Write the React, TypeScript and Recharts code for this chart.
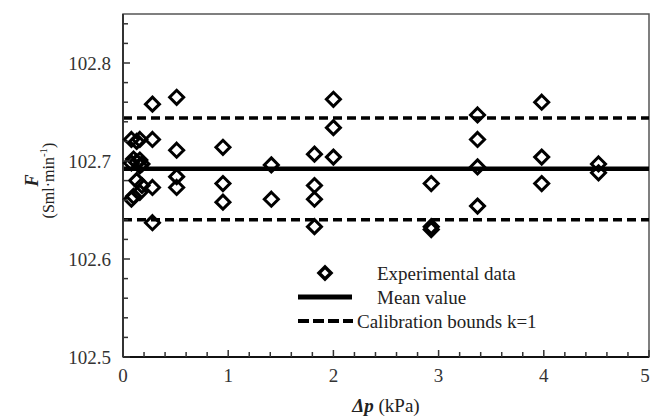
import React from 'react';
import { ScatterChart, Scatter, XAxis, YAxis, ReferenceLine, ReferenceArea, Legend } from 'recharts';

const FONT = 'Liberation Serif';

// pressure drop (kPa) of each measuring group
const pressureDrops = [0.08, 0.1, 0.13, 0.16, 0.18, 0.28, 0.51, 0.95, 1.41, 1.82, 2.0, 2.93, 3.37, 3.98, 4.52];
// flow readings (Sml/min) for each group above
const flowReadings = [
    [102.722, 102.698, 102.661],
    [102.702, 102.664],
    [102.72, 102.699, 102.68],
    [102.722, 102.701, 102.695, 102.668],
    [102.697, 102.675],
    [102.758, 102.722, 102.673, 102.637],
    [102.765, 102.711, 102.684, 102.673],
    [102.714, 102.677, 102.658],
    [102.696, 102.661],
    [102.707, 102.675, 102.661, 102.633],
    [102.763, 102.734, 102.704],
    [102.677, 102.633, 102.63],
    [102.747, 102.722, 102.694, 102.654],
    [102.76, 102.704, 102.677],
    [102.697, 102.688],
];

const meanValue = 102.692;
const upperBound = 102.744;
const lowerBound = 102.64;

const xMajorTicks = [0, 1, 2, 3, 4, 5];
const yMajorTicks = [102.5, 102.6, 102.7, 102.8];
const xTicks = Array.from({ length: 26 }, (_, i) => i * 0.2);
const yTicks = Array.from({ length: 18 }, (_, i) => 102.5 + i * 0.02);

const points = pressureDrops.flatMap((dp, i) => flowReadings[i].map((f) => ({ x: dp, y: f })));

const isMajor = (v: number, list: number[]) => list.some((m) => Math.abs(m - v) < 1e-6);

const Diamond = (props: any) => {
    const { cx, cy } = props;
    const r = 7;
    return (
        <path
            d={`M${cx},${cy - r}L${cx + r},${cy}L${cx},${cy + r}L${cx - r},${cy}Z`}
            fill="none"
            stroke="#000"
            strokeWidth={3}
        />
    );
};

const YTick = (props: any) => {
    const { x, y, payload } = props;
    const major = isMajor(payload.value, yMajorTicks);
    return (
        <g>
            <line x1={x} x2={x + (major ? 7 : 5)} y1={y} y2={y} stroke="#333" strokeWidth={1.5} />
            {major && (
                <text x={x - 12} y={y} dy="0.35em" textAnchor="end" fontSize={19} fontFamily={FONT} fill="#333">
                    {payload.value.toFixed(1)}
                </text>
            )}
        </g>
    );
};

const XTick = (props: any) => {
    const { x, y, payload } = props;
    const major = isMajor(payload.value, xMajorTicks);
    return (
        <g>
            <line x1={x} x2={x} y1={y} y2={y - (major ? 7 : 5)} stroke="#333" strokeWidth={1.5} />
            {major && (
                <text x={Math.min(x, 645)} y={y + 25} textAnchor="middle" fontSize={19} fontFamily={FONT} fill="#333">
                    {Math.round(payload.value)}
                </text>
            )}
        </g>
    );
};

const XLabel = (props: any) => {
    const { viewBox } = props;
    const cx = viewBox.x + viewBox.width / 2;
    return (
        <text x={cx} y={viewBox.y + 55} textAnchor="middle" fontSize={19} fontFamily={FONT} fill="#222">
            <tspan fontWeight="bold" fontStyle="italic">Δp</tspan>
            <tspan> (kPa)</tspan>
        </text>
    );
};

const YLabel = (props: any) => {
    const { viewBox } = props;
    const cy = viewBox.y + viewBox.height / 2 - 5;
    return (
        <g fontFamily={FONT} fill="#222">
            <text x={32} y={cy} transform={`rotate(-90 32 ${cy})`} textAnchor="middle" dominantBaseline="central" fontSize={18} fontWeight="bold" fontStyle="italic">
                F
            </text>
            <text x={48} y={cy} transform={`rotate(-90 48 ${cy})`} textAnchor="middle" dominantBaseline="central" fontSize={16}>
                (Sml·min
                <tspan dy={-5} fontSize={11}>-1</tspan>
                <tspan dy={5}>)</tspan>
            </text>
        </g>
    );
};

const LegendBox = () => (
    <svg width={350} height={75} style={{ overflow: 'visible' }}>
        <g fontFamily={FONT} fontSize={19} fill="#222">
            <path d="M30,6L36,12L30,18L24,12Z" fill="none" stroke="#000" strokeWidth={3.5} />
            <text x={82} y={12} dy="0.35em">Experimental data</text>
            <line x1={3} x2={57} y1={36} y2={36} stroke="#000" strokeWidth={5} />
            <text x={82} y={36} dy="0.35em">Mean value</text>
            <line x1={3} x2={58} y1={60} y2={60} stroke="#000" strokeWidth={4} strokeDasharray="11 4" />
            <text x={62} y={60} dy="0.35em">Calibration bounds k=1</text>
        </g>
    </svg>
);

export default function App() {
    return (
        <div style={{ position: 'absolute', left: 0, top: 0, width: 652, height: 416, background: '#fff' }}>
            <ScatterChart width={652} height={416} margin={{ top: 14, right: 3, bottom: 0, left: 0 }}>
                <ReferenceArea x1={0} x2={5} y1={102.5} y2={102.85} fill="none" stroke="#555" strokeWidth={1.5} />
                <XAxis
                    type="number"
                    dataKey="x"
                    domain={[0, 5]}
                    ticks={xTicks}
                    interval={0}
                    height={59}
                    tickSize={0}
                    tickMargin={0}
                    tickLine={false}
                    tick={<XTick />}
                    axisLine={{ stroke: '#111', strokeWidth: 2 }}
                    label={<XLabel />}
                />
                <YAxis
                    type="number"
                    dataKey="y"
                    domain={[102.5, 102.85]}
                    ticks={yTicks}
                    interval={0}
                    width={123}
                    tickSize={0}
                    tickMargin={0}
                    tickLine={false}
                    tick={<YTick />}
                    axisLine={{ stroke: '#333', strokeWidth: 2 }}
                    label={<YLabel />}
                />
                <ReferenceLine y={upperBound} stroke="#000" strokeWidth={3.5} strokeDasharray="9 5" />
                <ReferenceLine y={lowerBound} stroke="#000" strokeWidth={3.5} strokeDasharray="9 5" />
                <ReferenceLine y={meanValue} stroke="#000" strokeWidth={4.5} />
                <Scatter data={points} shape={<Diamond />} isAnimationActive={false} />
                <Legend
                    layout="vertical"
                    align="center"
                    verticalAlign="middle"
                    content={<LegendBox />}
                    wrapperStyle={{ position: 'absolute', left: 295, top: 261, width: 350, bottom: 'auto' }}
                />
            </ScatterChart>
        </div>
    );
}
